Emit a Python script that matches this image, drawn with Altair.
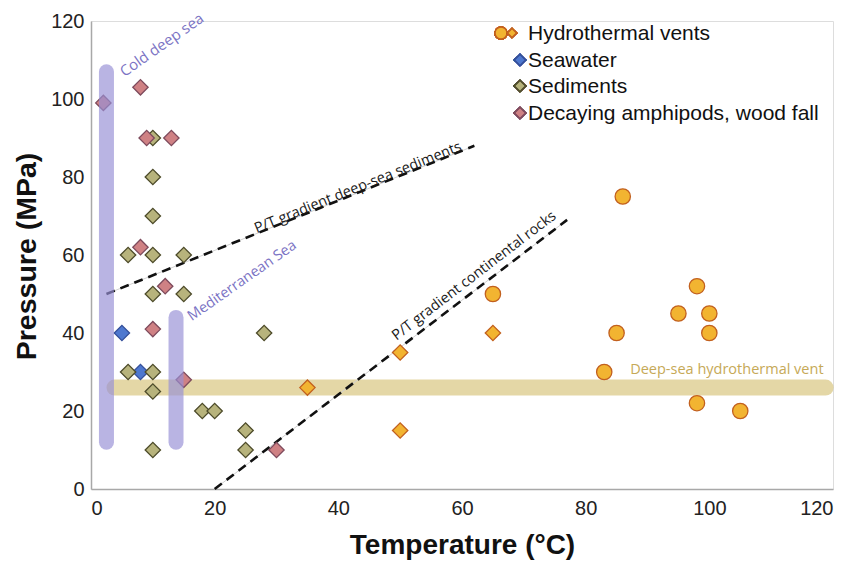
import altair as alt
import pandas as pd

# ---------------- data ----------------
hydro_circle_T = [86, 65, 98, 95, 100, 100, 85, 83, 98, 105]
hydro_circle_P = [75, 50, 52, 45, 45, 40, 40, 30, 22, 20]
hydro_diamond_T = [65, 50, 35, 50]
hydro_diamond_P = [40, 35, 26, 15]
seawater_T = [5, 8]
seawater_P = [40, 30]
sediments_T = [10, 10, 10, 6, 10, 15, 10, 15, 28, 6, 10, 10, 18, 20, 25, 25, 10]
sediments_P = [90, 80, 70, 60, 60, 60, 50, 50, 40, 30, 30, 25, 20, 20, 15, 10, 10]
decay_T = [2, 8, 9, 13, 8, 12, 10, 15, 30]
decay_P = [99, 103, 90, 90, 62, 52, 41, 28, 10]

groups = ["Hydrothermal vents", "Seawater", "Sediments", "Decaying amphipods, wood fall"]
fills = ["#f2b431", "#4e78cf", "#b7b37c", "#cf8184"]
strokes = ["#c2601f", "#35509a", "#4d4b2a", "#7d4a5c"]

# habitat ranges
cold_T = [2.5]
cold_P = [12, 107]
med_T = [13.75]
med_P = [12, 44]
vent_P = [26]
vent_T = [3.8, 118.8]

# P/T gradients
sed_grad_T = [2.5, 62]
sed_grad_P = [50, 88]
cont_grad_T = [20, 77]
cont_grad_P = [0, 69]

x_ticks = [0, 20, 40, 60, 80, 100, 120]
y_ticks = [0, 20, 40, 60, 80, 100, 120]

# ---------------- tables ----------------
rows = []
for t, p in zip(hydro_circle_T, hydro_circle_P):
    rows.append(dict(T=t, P=p, group=groups[0], shape="circle"))
for t, p in zip(hydro_diamond_T, hydro_diamond_P):
    rows.append(dict(T=t, P=p, group=groups[0], shape="diamond"))
for t, p in zip(seawater_T, seawater_P):
    rows.append(dict(T=t, P=p, group=groups[1], shape="diamond"))
for t, p in zip(sediments_T, sediments_P):
    rows.append(dict(T=t, P=p, group=groups[2], shape="diamond"))
for t, p in zip(decay_T, decay_P):
    rows.append(dict(T=t, P=p, group=groups[3], shape="diamond"))
pts = pd.DataFrame(rows)

AX_FONT = "Liberation Sans"
ANN_FONT = "Open Sans"

xs = alt.Scale(domain=[0, 120], nice=False, zero=True)
ys = alt.Scale(domain=[0, 120], nice=False, zero=True)

x_axis = alt.Axis(values=x_ticks, title="Temperature (\u00b0C)", grid=False, ticks=False, tickSize=0,
                  labelFontSize=20, labelFont=AX_FONT, labelColor="#222", labelPadding=9,
                  domainColor="#a8a8a8", domainWidth=1.5,
                  titleFont=AX_FONT, titleFontSize=28, titleFontWeight="bold", titleColor="#111",
                  titleX=371, titleY=64, titleBaseline="alphabetic", titleAlign="center")
y_axis = alt.Axis(values=y_ticks, title="Pressure (MPa)", grid=False, ticks=False, tickSize=0,
                  labelFontSize=20, labelFont=AX_FONT, labelColor="#222", labelPadding=7,
                  domainColor="#a8a8a8", domainWidth=1.5,
                  titleFont=AX_FONT, titleFontSize=28.5, titleFontWeight="bold", titleColor="#111",
                  titleX=-56, titleY=235, titleAngle=270, titleBaseline="alphabetic", titleAlign="center")


def X():
    return alt.X("T:Q", scale=xs, axis=x_axis)


def Y():
    return alt.Y("P:Q", scale=ys, axis=y_axis)


# tan band (deep-sea hydrothermal vent)
vent_df = pd.DataFrame({"T": [vent_T[0]], "T2": [vent_T[1]], "P": vent_P})
vent_band = alt.Chart(vent_df).mark_rule(strokeWidth=16, strokeCap="round", color="#d9c783",
                                          opacity=0.72).encode(x=X(), x2="T2:Q", y=Y())

# gradient lines
sed_df = pd.DataFrame({"T": sed_grad_T, "P": sed_grad_P})
cont_df = pd.DataFrame({"T": cont_grad_T, "P": cont_grad_P})
lines = []
for d in (sed_df, cont_df):
    lines.append(alt.Chart(d).mark_line(color="#d0d0d0", strokeWidth=1).encode(x=X(), y=Y()))
    lines.append(alt.Chart(d).mark_line(color="#111", strokeWidth=2.6, strokeDash=[9, 6]).encode(x=X(), y=Y()))

# points
fill_scale = alt.Scale(domain=groups, range=fills)
stroke_scale = alt.Scale(domain=groups, range=strokes)
points = alt.Chart(pts).mark_point(filled=True, size=235, strokeWidth=1.3, opacity=1).encode(
    x=X(), y=Y(),
    fill=alt.Fill("group:N", scale=fill_scale, legend=None),
    stroke=alt.Stroke("group:N", scale=stroke_scale, legend=None),
    shape=alt.Shape("shape:N", scale=alt.Scale(domain=["circle", "diamond"], range=["circle", "diamond"]),
                    legend=None),
)

# purple bars (on top of points, translucent)
cold_df = pd.DataFrame({"T": cold_T, "P": [cold_P[0]], "P2": [cold_P[1]]})
med_df = pd.DataFrame({"T": med_T, "P": [med_P[0]], "P2": [med_P[1]]})
bars = [
    alt.Chart(d).mark_rule(strokeWidth=15, strokeCap="round", color="#9890d6", opacity=0.68)
    .encode(x=X(), y=Y(), y2="P2:Q")
    for d in (cold_df, med_df)
]

# annotation texts
def label(text, t, p, angle, size, color):
    d = pd.DataFrame({"T": [t], "P": [p], "label": [text]})
    return alt.Chart(d).mark_text(align="left", baseline="alphabetic", angle=angle, fontSize=size,
                                  font=ANN_FONT, color=color).encode(x=X(), y=Y(), text="label:N")


texts = [
    label("Cold deep sea", 5.4, 105.6, 325, 15, "#7b73c4"),
    label("Mediterranean Sea", 16.3, 43.0, 325, 14.5, "#7b73c4"),
    label("P/T gradient deep-sea sediments", 26.8, 65.6, 338, 14.5, "#1a1a1a"),
    label("P/T gradient continental rocks", 49.4, 38.0, 322.5, 14.5, "#1a1a1a"),
    label("Deep-sea hydrothermal vent", 87.2, 29.6, 0, 14.5, "#c6a957"),
]

# manual legend (layout in pixels)
leg = []
leg_y = [12, 39, 65, 92]
leg.append(alt.Chart(pts).mark_point(shape="circle", filled=True, size=140, fill=fills[0], stroke=strokes[0],
                                     strokeWidth=1.3, opacity=1)
           .encode(x=alt.value(410), y=alt.value(leg_y[0])))
for i in range(4):
    leg.append(alt.Chart(pts).mark_point(shape="diamond", filled=True, size=(80 if i == 0 else 120),
                                         fill=fills[i], stroke=strokes[i], strokeWidth=1.2, opacity=1)
               .encode(x=alt.value(421 if i == 0 else 429), y=alt.value(leg_y[i])))
    leg.append(alt.Chart(pd.DataFrame({"label": [groups[i]]})).mark_text(
        align="left", baseline="middle", fontSize=21, font=AX_FONT, color="#111")
        .encode(x=alt.value(437), y=alt.value(leg_y[i] + 1), text="label:N"))

chart = alt.layer(vent_band, *lines, points, *bars, *texts, *leg).properties(
    width=742, height=468,
    autosize=alt.AutoSizeParams(type="none"),
    padding={"left": 83, "top": 13, "right": 17, "bottom": 72},
).configure_view(stroke=None).configure(background="white")

chart.save("out.html", embed_options={"renderer": "svg", "actions": False})
